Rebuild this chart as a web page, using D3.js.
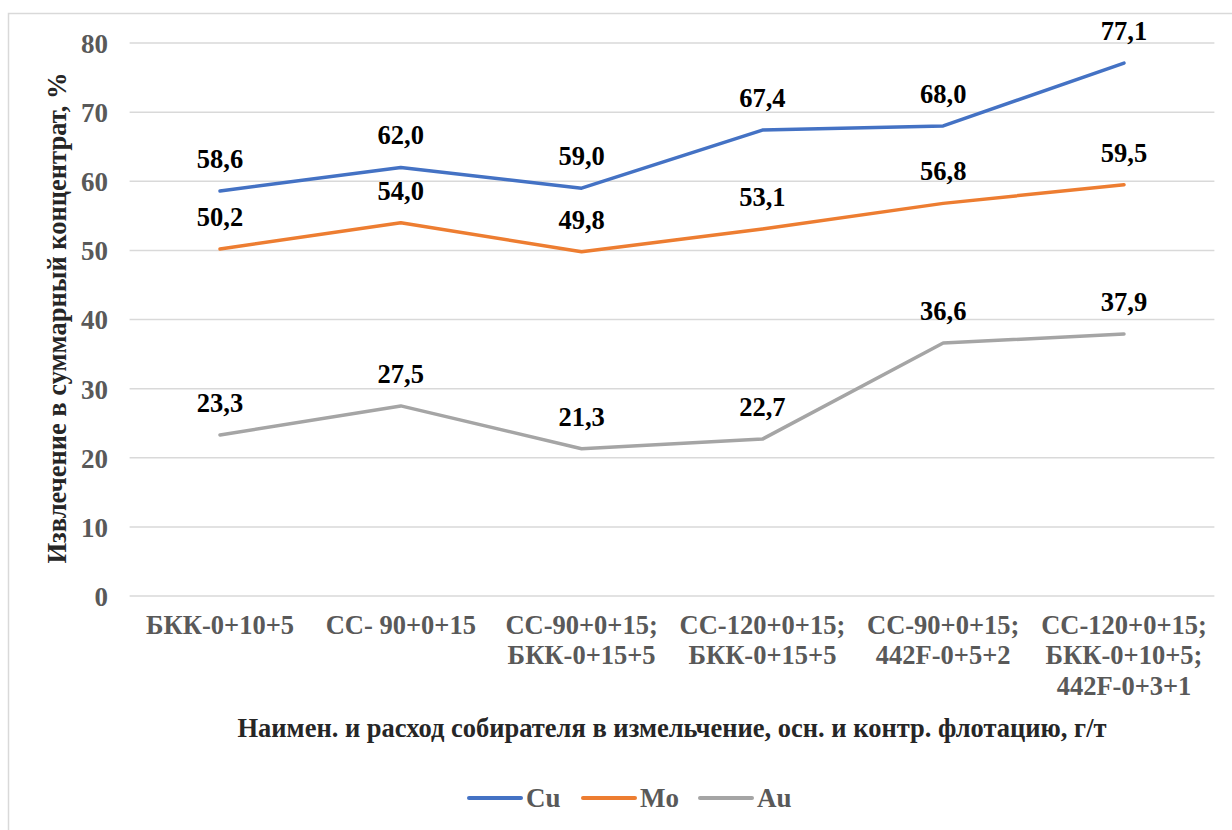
<!DOCTYPE html>
<html><head><meta charset="utf-8">
<script src="https://cdn.jsdelivr.net/npm/d3@7"></script>
<style>body{margin:0;background:#fff}</style>
</head><body>
<svg id="c" width="1232" height="830"></svg>
<script>
const categories = [
  ["БКК-0+10+5"],
  ["СС- 90+0+15"],
  ["СС-90+0+15;","БКК-0+15+5"],
  ["СС-120+0+15;","БКК-0+15+5"],
  ["СС-90+0+15;","442F-0+5+2"],
  ["СС-120+0+15;","БКК-0+10+5;","442F-0+3+1"]
];
const seriesNames = ["Cu","Mo","Au"];
const cuValues = [58.6, 62.0, 59.0, 67.4, 68.0, 77.1];
const moValues = [50.2, 54.0, 49.8, 53.1, 56.8, 59.5];
const auValues = [23.3, 27.5, 21.3, 22.7, 36.6, 37.9];
const yTicks = [0,10,20,30,40,50,60,70,80];
const colors = ["#4472C4","#ED7D31","#A5A5A5"];
const yTitle = "Извлечение в суммарный концентрат, %";
const xTitle = "Наимен. и расход собирателя в измельчение, осн. и контр. флотацию, г/т";

const series = [cuValues, moValues, auValues];
const svg = d3.select("#c");
const font = "Liberation Serif, Tinos, Noto Serif, DejaVu Serif, serif";
svg.append("rect").attr("x",8.5).attr("y",13.5).attr("width",1240).attr("height",840)
  .attr("fill","#fff").attr("stroke","#d9d9d9").attr("stroke-width",1.5);

const x = d3.scaleBand().domain(d3.range(categories.length)).range([129.6,1214.4]);
const y = d3.scaleLinear().domain([0,80]).range([596,43]);

const g = svg.append("g");
g.selectAll("line.grid").data(yTicks).join("line")
  .attr("x1",129.6).attr("x2",1214.4).attr("y1",d=>y(d)).attr("y2",d=>y(d))
  .attr("stroke","#d9d9d9").attr("stroke-width",1.5);

const yAxis = g.append("g").attr("transform","translate(108,0)")
  .call(d3.axisLeft(y).tickValues(yTicks).tickSize(0).tickPadding(0));
yAxis.select(".domain").remove();
yAxis.selectAll("text").style("font-family",font).attr("font-weight","bold")
  .attr("font-size",27).attr("fill","#595959").attr("dy","0.35em");

const xAxis = g.append("g").attr("transform","translate(0,596)")
  .call(d3.axisBottom(x).tickSize(0).tickFormat(""));
xAxis.select(".domain").remove();
xAxis.selectAll(".tick").each(function(d){
  const t = d3.select(this).append("text").style("font-family",font).attr("font-weight","bold")
    .attr("font-size",26.5).attr("fill","#595959").attr("text-anchor","middle");
  categories[d].forEach((s,i)=>t.append("tspan").attr("x",0).attr("y",37.5+i*30.8).text(s));
});

const line = d3.line().x((d,i)=>x(i)+x.bandwidth()/2).y(d=>y(d));
series.forEach((vals,k)=>{
  g.append("path").datum(vals).attr("d",line).attr("fill","none")
    .attr("stroke",colors[k]).attr("stroke-width",3.5).attr("stroke-linejoin","round").attr("stroke-linecap","round");
});
series.forEach((vals,k)=>{
  g.selectAll(null).data(vals).join("text")
    .attr("x",(d,i)=>x(i)+x.bandwidth()/2).attr("y",d=>y(d)-23)
    .attr("text-anchor","middle").style("font-family",font).attr("font-weight","bold")
    .attr("font-size",26.5).attr("fill","#000")
    .text(d=>d.toFixed(1).replace(".",","));
});

svg.append("text").attr("transform","translate(66,318) rotate(-90)")
  .attr("text-anchor","middle").style("font-family",font).attr("font-weight","bold")
  .attr("font-size",26.5).attr("fill","#262626").text(yTitle);
svg.append("text").attr("x",672).attr("y",737)
  .attr("text-anchor","middle").style("font-family",font).attr("font-weight","bold")
  .attr("font-size",26.5).attr("fill","#262626").text(xTitle);

const legX = [468,582,699];
seriesNames.forEach((n,k)=>{
  const lg = svg.append("g").attr("transform",`translate(${legX[k]},798)`);
  lg.append("line").attr("x1",1).attr("x2",53).attr("y1",0).attr("y2",0)
    .attr("stroke",colors[k]).attr("stroke-width",4).attr("stroke-linecap","round");
  lg.append("text").attr("x",58).attr("y",9).style("font-family",font).attr("font-weight","bold")
    .attr("font-size",27).attr("fill","#595959").text(n);
});
</script>
</body></html>
